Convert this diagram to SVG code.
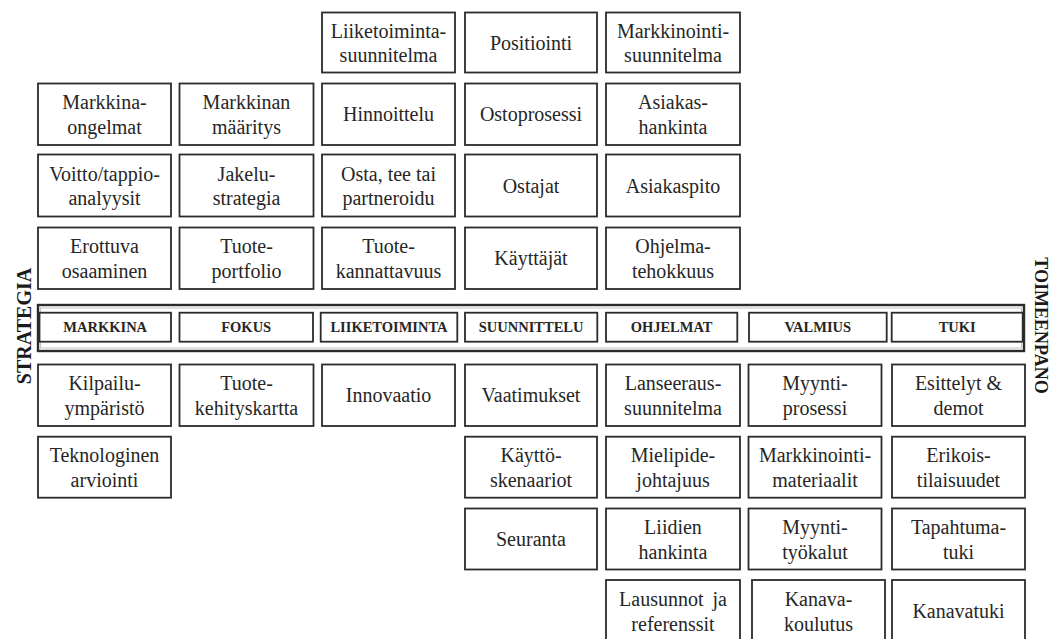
<svg xmlns="http://www.w3.org/2000/svg" width="1057" height="639" viewBox="0 0 1057 639">
<style>
  .box { fill: #ffffff; stroke: #2b2b2b; stroke-width: 1.8; }
  .t { font-family: "Liberation Serif", "Times New Roman", serif; font-size: 20px; fill: #262626; text-anchor: middle; }
  .b { font-family: "Liberation Serif", "Times New Roman", serif; font-size: 14.5px; font-weight: bold; fill: #262626; text-anchor: middle; }
  .side { font-family: "Liberation Serif", "Times New Roman", serif; font-weight: bold; fill: #1a1a1a; text-anchor: middle; }
  .band { fill: none; stroke: #2b2b2b; stroke-width: 2.4; }
  .bandin { fill: none; stroke: #c4c4c4; stroke-width: 1; }
</style>
<rect width="1057" height="639" fill="#ffffff"/>

<g id="connectors"></g>

<!-- Top section -->
<g id="liiketoimintasuunnitelma"><rect class="box" x="322" y="12.5" width="133" height="60"/><text class="t" x="388.5" y="37.5">Liiketoiminta-</text><text class="t" x="388.5" y="62">suunnitelma</text></g>
<g id="positiointi"><rect class="box" x="465" y="12.5" width="132" height="60"/><text class="t" x="531" y="49.5">Positiointi</text></g>
<g id="markkinointisuunnitelma"><rect class="box" x="606" y="12.5" width="134" height="60"/><text class="t" x="673" y="37.5">Markkinointi-</text><text class="t" x="673" y="62">suunnitelma</text></g>

<g id="markkinaongelmat"><rect class="box" x="38" y="83.5" width="133" height="61.5"/><text class="t" x="104.5" y="109.2">Markkina-</text><text class="t" x="104.5" y="133.7">ongelmat</text></g>
<g id="markkinanmaaritys"><rect class="box" x="179.5" y="83.5" width="134" height="61.5"/><text class="t" x="246.5" y="109.2">Markkinan</text><text class="t" x="246.5" y="133.7">määritys</text></g>
<g id="hinnoittelu"><rect class="box" x="322" y="83.5" width="133" height="61.5"/><text class="t" x="388.5" y="121.2">Hinnoittelu</text></g>
<g id="ostoprosessi"><rect class="box" x="465" y="83.5" width="132" height="61.5"/><text class="t" x="531" y="121.2">Ostoprosessi</text></g>
<g id="asiakashankinta"><rect class="box" x="606" y="83.5" width="134" height="61.5"/><text class="t" x="673" y="109.2">Asiakas-</text><text class="t" x="673" y="133.7">hankinta</text></g>

<g id="voittotappio"><rect class="box" x="38" y="154.5" width="133" height="62"/><text class="t" x="104.5" y="180.5">Voitto/tappio-</text><text class="t" x="104.5" y="205">analyysit</text></g>
<g id="jakelustrategia"><rect class="box" x="179.5" y="154.5" width="134" height="62"/><text class="t" x="246.5" y="180.5">Jakelu-</text><text class="t" x="246.5" y="205">strategia</text></g>
<g id="ostatee"><rect class="box" x="322" y="154.5" width="133" height="62"/><text class="t" x="388.5" y="180.5">Osta, tee tai</text><text class="t" x="388.5" y="205">partneroidu</text></g>
<g id="ostajat"><rect class="box" x="465" y="154.5" width="132" height="62"/><text class="t" x="531" y="192.5">Ostajat</text></g>
<g id="asiakaspito"><rect class="box" x="606" y="154.5" width="134" height="62"/><text class="t" x="673" y="192.5">Asiakaspito</text></g>

<g id="erottuva"><rect class="box" x="38" y="227.5" width="133" height="61.5"/><text class="t" x="104.5" y="253.2">Erottuva</text><text class="t" x="104.5" y="277.7">osaaminen</text></g>
<g id="tuoteportfolio"><rect class="box" x="179.5" y="227.5" width="134" height="61.5"/><text class="t" x="246.5" y="253.2">Tuote-</text><text class="t" x="246.5" y="277.7">portfolio</text></g>
<g id="tuotekannattavuus"><rect class="box" x="322" y="227.5" width="133" height="61.5"/><text class="t" x="388.5" y="253.2">Tuote-</text><text class="t" x="388.5" y="277.7">kannattavuus</text></g>
<g id="kayttajat"><rect class="box" x="465" y="227.5" width="132" height="61.5"/><text class="t" x="531" y="265.2">Käyttäjät</text></g>
<g id="ohjelmatehokkuus"><rect class="box" x="606" y="227.5" width="134" height="61.5"/><text class="t" x="673" y="253.2">Ohjelma-</text><text class="t" x="673" y="277.7">tehokkuus</text></g>

<!-- Band -->
<g id="band">
  <rect class="band" x="38" y="305" width="986" height="46"/>
  <rect class="bandin" x="40.5" y="308" width="981" height="40"/>
</g>
<g id="markkina"><rect class="box" x="39.5" y="312.7" width="131.5" height="29"/><text class="b" x="105.2" y="332">MARKKINA</text></g>
<g id="fokus"><rect class="box" x="179.5" y="312.7" width="133.5" height="29"/><text class="b" x="246.2" y="332">FOKUS</text></g>
<g id="liiketoiminta"><rect class="box" x="320.7" y="312.7" width="136.6" height="29"/><text class="b" x="389" y="332">LIIKETOIMINTA</text></g>
<g id="suunnittelu"><rect class="box" x="465" y="312.7" width="132.3" height="29"/><text class="b" x="531.1" y="332">SUUNNITTELU</text></g>
<g id="ohjelmat"><rect class="box" x="606" y="312.7" width="131.3" height="29"/><text class="b" x="671.6" y="332">OHJELMAT</text></g>
<g id="valmius"><rect class="box" x="749" y="312.7" width="137.7" height="29"/><text class="b" x="817.8" y="332">VALMIUS</text></g>
<g id="tuki"><rect class="box" x="891.7" y="312.7" width="131" height="29"/><text class="b" x="957.2" y="332">TUKI</text></g>

<!-- Side labels -->
<text class="side" font-size="20" transform="translate(31,326) rotate(-90)">STRATEGIA</text>
<text class="side" font-size="18" transform="translate(1035,325.5) rotate(90)">TOIMEENPANO</text>

<!-- Bottom section -->
<g id="kilpailuymparisto"><rect class="box" x="38" y="364.5" width="133" height="61.5"/><text class="t" x="104.5" y="390.2">Kilpailu-</text><text class="t" x="104.5" y="414.7">ympäristö</text></g>
<g id="tuotekehityskartta"><rect class="box" x="179.5" y="364.5" width="134" height="61.5"/><text class="t" x="246.5" y="390.2">Tuote-</text><text class="t" x="246.5" y="414.7">kehityskartta</text></g>
<g id="innovaatio"><rect class="box" x="322" y="364.5" width="133" height="61.5"/><text class="t" x="388.5" y="402.2">Innovaatio</text></g>
<g id="vaatimukset"><rect class="box" x="465" y="364.5" width="132" height="61.5"/><text class="t" x="531" y="402.2">Vaatimukset</text></g>
<g id="lanseeraussuunnitelma"><rect class="box" x="606" y="364.5" width="134" height="61.5"/><text class="t" x="673" y="390.2">Lanseeraus-</text><text class="t" x="673" y="414.7">suunnitelma</text></g>
<g id="myyntiprosessi"><rect class="box" x="748.5" y="364.5" width="133" height="61.5"/><text class="t" x="815" y="390.2">Myynti-</text><text class="t" x="815" y="414.7">prosessi</text></g>
<g id="esittelyt"><rect class="box" x="892" y="364.5" width="133" height="61.5"/><text class="t" x="958.5" y="390.2">Esittelyt &amp;</text><text class="t" x="958.5" y="414.7">demot</text></g>

<g id="teknologinen"><rect class="box" x="38" y="436.7" width="133" height="61"/><text class="t" x="104.5" y="462.2">Teknologinen</text><text class="t" x="104.5" y="486.7">arviointi</text></g>
<g id="kayttoskenaariot"><rect class="box" x="465" y="436.7" width="132" height="61"/><text class="t" x="531" y="462.2">Käyttö-</text><text class="t" x="531" y="486.7">skenaariot</text></g>
<g id="mielipidejohtajuus"><rect class="box" x="606" y="436.7" width="134" height="61"/><text class="t" x="673" y="462.2">Mielipide-</text><text class="t" x="673" y="486.7">johtajuus</text></g>
<g id="markkinointimateriaalit"><rect class="box" x="748.5" y="436.7" width="133" height="61"/><text class="t" x="815" y="462.2">Markkinointi-</text><text class="t" x="815" y="486.7">materiaalit</text></g>
<g id="erikoistilaisuudet"><rect class="box" x="892" y="436.7" width="133" height="61"/><text class="t" x="958.5" y="462.2">Erikois-</text><text class="t" x="958.5" y="486.7">tilaisuudet</text></g>

<g id="seuranta"><rect class="box" x="465" y="508.5" width="132" height="61"/><text class="t" x="531" y="546">Seuranta</text></g>
<g id="liidienhankinta"><rect class="box" x="606" y="508.5" width="134" height="61"/><text class="t" x="673" y="534">Liidien</text><text class="t" x="673" y="558.5">hankinta</text></g>
<g id="myyntityokalut"><rect class="box" x="748.5" y="508.5" width="133" height="61"/><text class="t" x="815" y="534">Myynti-</text><text class="t" x="815" y="558.5">työkalut</text></g>
<g id="tapahtumatuki"><rect class="box" x="892" y="508.5" width="133" height="61"/><text class="t" x="958.5" y="534">Tapahtuma-</text><text class="t" x="958.5" y="558.5">tuki</text></g>

<g id="lausunnot"><rect class="box" x="606" y="580" width="134" height="62"/><text class="t" x="673" y="606" word-spacing="4">Lausunnot ja</text><text class="t" x="673" y="630.5">referenssit</text></g>
<g id="kanavakoulutus"><rect class="box" x="752" y="580" width="133" height="62"/><text class="t" x="818.5" y="606">Kanava-</text><text class="t" x="818.5" y="630.5">koulutus</text></g>
<g id="kanavatuki"><rect class="box" x="892" y="580" width="133" height="62"/><text class="t" x="958.5" y="618">Kanavatuki</text></g>
</svg>
